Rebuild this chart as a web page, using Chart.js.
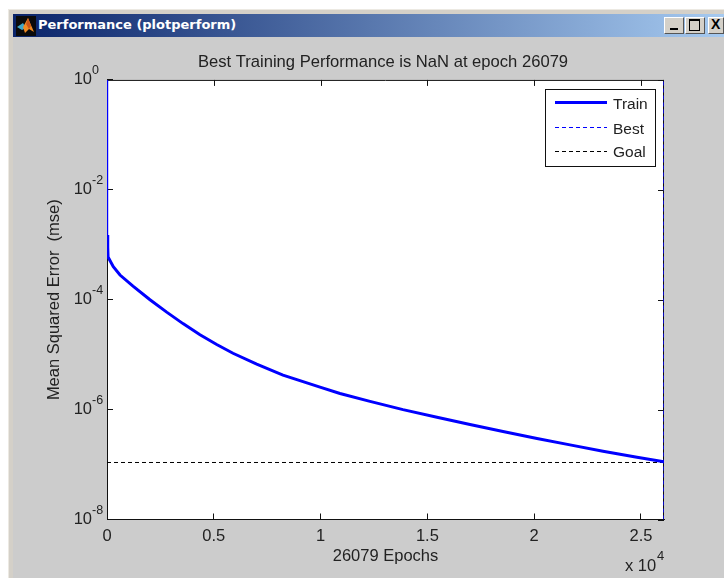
<!DOCTYPE html>
<html>
<head>
<meta charset="utf-8">
<title>Performance (plotperform)</title>
<script src="https://cdn.jsdelivr.net/npm/chart.js@4"></script>
<style>
  html, body { margin: 0; padding: 0; background: #fff; overflow: hidden; }
  #win { position: absolute; left: 8px; top: 9px; width: 716px; height: 569px; background: #d4d0c8; border-left: 1px solid #ece9e2; border-top: 1px solid #ece9e2; box-sizing: border-box; }
  #bar { position: absolute; left: 13px; top: 14px; width: 711px; height: 23px; background: linear-gradient(to right, #0a246a, #a6caf0); }
  #bar span { position: absolute; left: 25px; top: 3px; color: #fff; font: bold 13px "DejaVu Sans", sans-serif; white-space: nowrap; }
  #bar svg { position: absolute; left: 3px; top: 2px; }
  #body { position: absolute; left: 13px; top: 37px; width: 711px; height: 541px; background: #cccccc; }
  .btn { position: absolute; top: 17px; width: 20px; height: 17px; box-sizing: border-box; background: #d4d0c8; border: 1px solid; border-color: #fff #555 #555 #fff; }
  .btn i { position: absolute; display: block; }
  canvas { position: absolute; left: 0; top: 0; }
</style>
</head>
<body>
<div id="win"></div>
<div id="body"></div>
<div id="bar">
  <svg width="20" height="20" viewBox="0 0 20 20">
    <rect width="20" height="20" fill="#0b0b0b"/>
    <polygon points="1,11 7,7 10,12 6,14" fill="#3fa7c9"/>
    <polygon points="7,11 12,2 18,16 13,13 9,17" fill="#ef8a22"/>
    <polygon points="12,2 15,10 13,13 10,8" fill="#c9541a"/>
  </svg>
  <span>Performance (plotperform)</span>
</div>
<div class="btn" style="left:664px"><i style="left:5px;top:10px;width:8px;height:2px;background:#000"></i></div>
<div class="btn" style="left:685px"><i style="left:3px;top:1px;width:9px;height:9px;border:1px solid #000;border-top-width:2px"></i></div>
<div class="btn" style="left:708px;width:16px"><i style="left:2px;top:-2px;font:bold 14px 'Liberation Sans',sans-serif;font-style:normal;color:#000">X</i></div>
<canvas id="chart1" width="724" height="578"></canvas>
<script>
// valores
const epochs = [20, 22, 28, 32, 38, 42, 50, 295, 609, 1217, 2013, 2795, 3558, 4354, 5136, 5899, 7009, 8240, 9973, 10909, 12314, 13859, 15450, 16995, 18541, 20133, 21678, 23223, 24815, 26079];
const trainMse = [1, 1.5e-3, 7e-4, 1.2e-3, 6.5e-4, 9e-4, 6.0e-4, 3.98e-4, 2.81e-4, 1.77e-4, 1.00e-4, 5.94e-5, 3.67e-5, 2.31e-5, 1.53e-5, 1.06e-5, 6.71e-6, 4.24e-6, 2.56e-6, 1.96e-6, 1.41e-6, 1.00e-6, 7.28e-7, 5.36e-7, 3.99e-7, 2.99e-7, 2.28e-7, 1.75e-7, 1.36e-7, 1.12e-7];
const bestEpochs = [26068, 26068];
const bestMse = [1e-8, 1];
const goalEpochs = [0, 26079];
const goalMse = [1.09e-7, 1.09e-7];
const xTicks = [0, 5000, 10000, 15000, 20000, 25000];
const yTicks = [1, 1e-2, 1e-4, 1e-6, 1e-8];
const yExponents = ["0", "-2", "-4", "-6", "-8"];
const legendLabels = ["Train", "Best", "Goal"];

const fontFamily = '"Liberation Sans", Arial, sans-serif';
const textColor = "#222";

function pares(xs, ys) {
    return xs.map((x, i) => ({ x: x, y: ys[i] }));
}

// caixa do eixo, marcas espelhadas e expoentes
const caixaPlugin = {
    id: "caixa",
    afterLayout(chart) {
        // titulo centrado sobre a area do grafico
        chart.titleBlock.left = 102;
        chart.titleBlock.right = 664;
    },
    beforeDraw(chart) {
        const a = chart.chartArea;
        chart.ctx.fillStyle = "#fff";
        chart.ctx.fillRect(a.left, a.top, a.width, a.height);
    },
    beforeDatasetsDraw(chart) {
        const ctx = chart.ctx, a = chart.chartArea;
        ctx.save();
        ctx.strokeStyle = "#111";
        ctx.lineWidth = 1;
        ctx.beginPath();
        ctx.moveTo(a.left, a.top + 0.5); ctx.lineTo(a.right, a.top + 0.5);
        ctx.moveTo(a.right - 0.5, a.top); ctx.lineTo(a.right - 0.5, a.bottom);
        xTicks.forEach(v => {
            const x = Math.round(chart.scales.x.getPixelForValue(v)) + 0.5;
            ctx.moveTo(x, a.top); ctx.lineTo(x, a.top + 6);
        });
        yTicks.forEach(v => {
            const y = Math.round(chart.scales.y.getPixelForValue(v)) + 0.5;
            ctx.moveTo(a.right, y); ctx.lineTo(a.right - 6, y);
        });
        ctx.stroke();
        ctx.restore();
    },
    afterDraw(chart) {
        const ctx = chart.ctx;
        ctx.save();
        ctx.fillStyle = textColor;
        ctx.textBaseline = "middle";
        ctx.textAlign = "left";
        ctx.font = "12.5px " + fontFamily;
        yTicks.forEach((v, i) => {
            ctx.fillText(yExponents[i], 92, chart.scales.y.getPixelForValue(v) - 9);
        });
        ctx.font = "16.5px " + fontFamily;
        ctx.fillText("x 10", 625, 566);
        ctx.font = "13px " + fontFamily;
        ctx.fillText("4", 657, 556);

        // legenda
        ctx.fillStyle = "#fff";
        ctx.fillRect(546, 89, 110, 77);
        ctx.strokeStyle = "#111";
        ctx.lineWidth = 1;
        ctx.strokeRect(545.5, 89.5, 110, 77);
        const linhasY = [102.5, 127.5, 151.5];
        const textoY = [105, 130, 153];
        legendLabels.forEach((label, i) => {
            const ds = chart.data.datasets[i];
            ctx.strokeStyle = ds.borderColor;
            ctx.lineWidth = ds.borderWidth;
            ctx.setLineDash(ds.borderDash || []);
            ctx.beginPath();
            ctx.moveTo(555, linhasY[i]);
            ctx.lineTo(607, linhasY[i]);
            ctx.stroke();
            ctx.setLineDash([]);
            ctx.fillStyle = textColor;
            ctx.font = "15.5px " + fontFamily;
            ctx.fillText(label, 613, textoY[i]);
        });
        ctx.restore();
    }
};

new Chart(document.getElementById("chart1").getContext("2d"), {
    type: "line",
    data: {
        datasets: [
            {
                label: legendLabels[0],
                data: pares(epochs, trainMse),
                borderColor: "#0000ff",
                borderWidth: 3,
                segment: { borderWidth: c => c.p0DataIndex === 0 ? 1.5 : 3 }
            },
            {
                label: legendLabels[1],
                data: pares(bestEpochs, bestMse),
                borderColor: "#0000ff",
                borderWidth: 1,
                borderDash: [4, 3]
            },
            {
                label: legendLabels[2],
                data: pares(goalEpochs, goalMse),
                borderColor: "#000",
                borderWidth: 1,
                borderDash: [4, 3]
            }
        ]
    },
    options: {
        responsive: false,
        animation: false,
        elements: { point: { radius: 0 }, line: { tension: 0 } },
        layout: { padding: { left: 0, top: 0, right: 60, bottom: 0 } },
        plugins: {
            legend: { display: false },
            tooltip: { enabled: false },
            title: {
                display: true,
                text: "Best Training Performance is NaN at epoch 26079",
                color: textColor,
                font: { family: fontFamily, size: 16.6, weight: "normal", lineHeight: 1.2 },
                padding: { top: 52, bottom: 8 }
            }
        },
        scales: {
            x: {
                type: "linear",
                min: 0,
                max: 26079,
                afterBuildTicks: s => { s.ticks = xTicks.map(v => ({ value: v })); },
                afterFit: s => { s.height = 58.5; },
                border: { color: "#111" },
                grid: { drawOnChartArea: false, tickLength: -6, tickColor: "#111" },
                ticks: {
                    color: textColor,
                    maxRotation: 0,
                    padding: 13,
                    font: { family: fontFamily, size: 16.5 },
                    callback: v => String(v / 10000)
                },
                title: {
                    display: true,
                    text: "26079 Epochs",
                    color: textColor,
                    font: { family: fontFamily, size: 16.5 },
                    padding: { top: 0, bottom: 12 }
                }
            },
            y: {
                type: "logarithmic",
                min: 1e-8,
                max: 1,
                afterBuildTicks: s => { s.ticks = yTicks.map(v => ({ value: v })); },
                afterFit: s => { s.width = 107; },
                border: { color: "#111" },
                grid: { drawOnChartArea: false, tickLength: -6, tickColor: "#111" },
                ticks: {
                    color: textColor,
                    padding: 21,
                    autoSkip: false,
                    font: { family: fontFamily, size: 16.5 },
                    callback: () => "10"
                },
                title: {
                    display: true,
                    text: "Mean Squared Error  (mse)",
                    color: textColor,
                    font: { family: fontFamily, size: 16.5 },
                    padding: { top: 45, bottom: 0 }
                }
            }
        }
    },
    plugins: [caixaPlugin]
});
</script>
</body>
</html>
